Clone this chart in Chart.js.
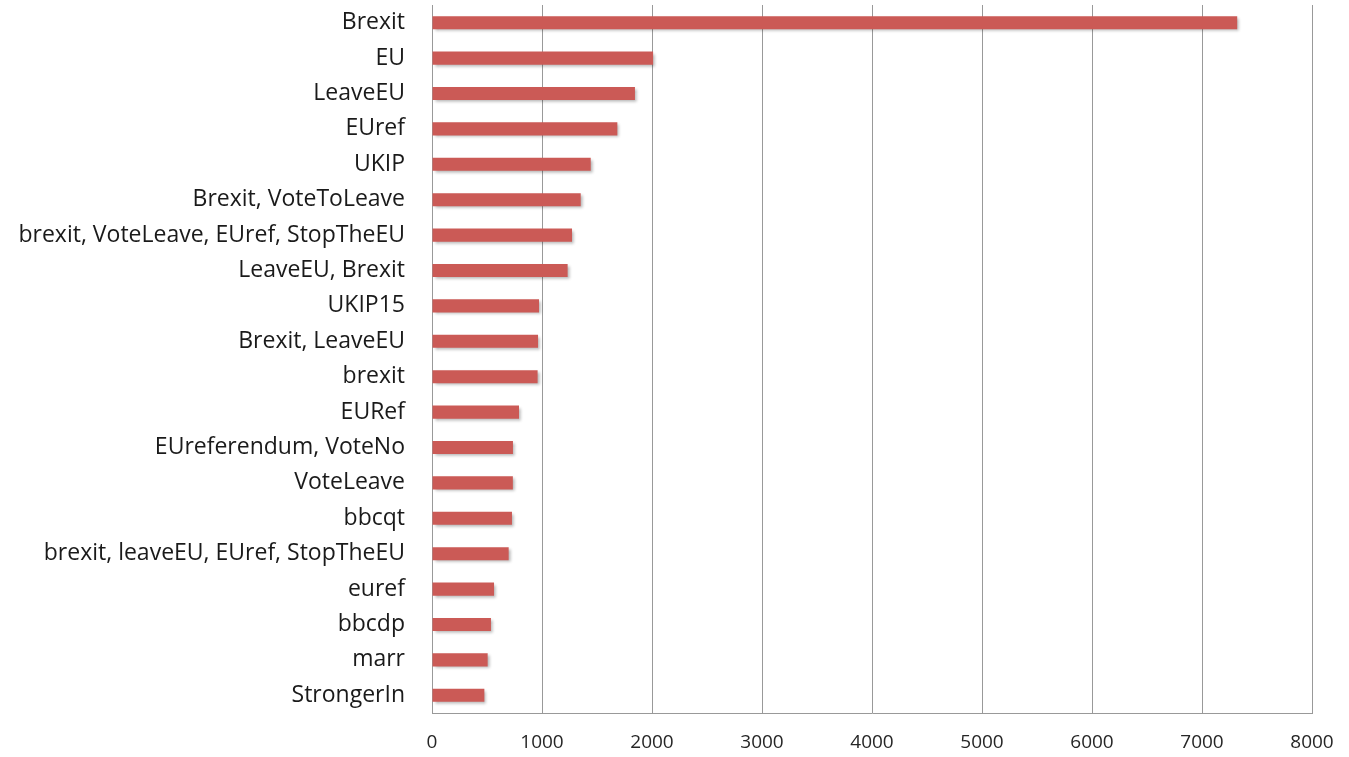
<!DOCTYPE html>
<html><head><meta charset="utf-8">
<script src="https://cdn.jsdelivr.net/npm/chart.js@4"></script>
<style>html,body{margin:0;padding:0;background:#fff;}#wrap{width:1349px;height:757px;position:relative;}</style>
</head><body><div id="wrap"><canvas id="c" width="1349" height="757"></canvas></div>
<script>
const categories = ["Brexit","EU","LeaveEU","EUref","UKIP","Brexit, VoteToLeave","brexit, VoteLeave, EUref, StopTheEU","LeaveEU, Brexit","UKIP15","Brexit, LeaveEU","brexit","EURef","EUreferendum, VoteNo","VoteLeave","bbcqt","brexit, leaveEU, EUref, StopTheEU","euref","bbcdp","marr","StrongerIn"];
const counts = [7320,2010,1845,1685,1443,1352,1273,1233,973,964,960,791,736,735,727,697,564,536,506,476];
const xTicks = [0,1000,2000,3000,4000,5000,6000,7000,8000];

const shadowPlugin = {
  id:'shadow',
  beforeDatasetsDraw(chart){const ctx=chart.ctx;ctx.save();ctx.shadowColor='rgba(0,0,0,0.3)';ctx.shadowBlur=3;ctx.shadowOffsetX=2;ctx.shadowOffsetY=2;},
  afterDatasetsDraw(chart){chart.ctx.restore();}
};

new Chart(document.getElementById('c'),{
  type:'bar',
  data:{labels:categories,datasets:[{data:counts,backgroundColor:'#CB5A56',borderWidth:0,barPercentage:0.37,categoryPercentage:1}]},
  options:{
    indexAxis:'y',responsive:false,animation:false,
    layout:{padding:{top:5,right:37,left:0,bottom:0}},
    plugins:{legend:{display:false},tooltip:{enabled:false}},
    scales:{
      x:{min:0,max:8000,afterBuildTicks(s){s.ticks=xTicks.map(v=>({value:v}));},
        afterFit(s){s.height=44;s.paddingRight=0;s.paddingLeft=0;},
        grid:{color:'#999',lineWidth:1,drawTicks:false},
        border:{color:'#999'},
        ticks:{padding:18,color:'#262626',font:{family:'Open Sans',size:19},callback:(v)=>String(v)}},
      y:{afterFit(s){s.width=432;},
        grid:{display:true,drawOnChartArea:false,drawTicks:true,tickLength:27,tickColor:'rgba(0,0,0,0)'},
        border:{color:'#999'},
        ticks:{padding:0,color:'#1a1a1a',font:{family:'Open Sans',size:23,lineHeight:0.4}}}
    }
  },
  plugins:[shadowPlugin]
});
</script></body></html>
